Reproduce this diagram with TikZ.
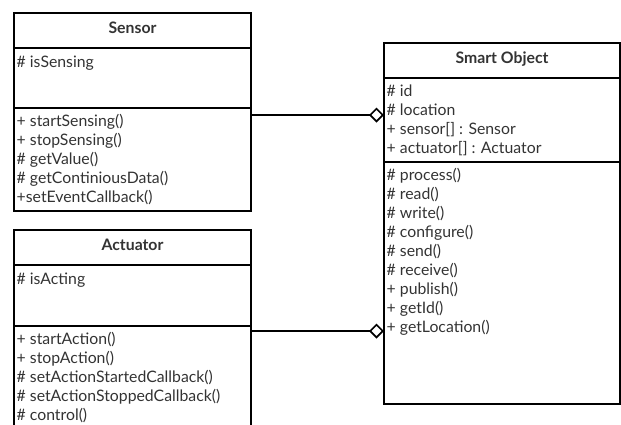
\documentclass[tikz,border=0pt]{standalone}
\usepackage{fontspec}
\setmainfont{Lato}
\usetikzlibrary{positioning,arrows.meta}
\definecolor{umltext}{HTML}{333333}
\tikzstyle{classhead} = [draw=black, line width=1.5pt, outer sep=0pt, inner sep=0pt, minimum height=35pt, text height=11pt, text depth=5pt, text=umltext, font=\fontsize{15.8}{19}\selectfont\bfseries]
\tikzstyle{compart} = [draw=black, line width=1.5pt, outer sep=0pt, inner sep=0pt]
\tikzstyle{members} = [anchor=north west, align=left, inner xsep=2.5pt, inner ysep=6.3pt, text=umltext, font=\fontsize{15.8}{19}\selectfont, execute at begin node=\strut]
\tikzstyle{aggr} = [line width=1.3pt, -{Diamond[open, length=15pt, width=15pt, line width=1.7pt]}]

\begin{document}
\begin{tikzpicture}[x=1pt, y=-1pt]
\useasboundingbox (0,0) rectangle (621,424);

% Sensor class
\node[classhead, minimum width=237pt, anchor=north west] (sensor) at (14,13) {Sensor};
\node[compart, minimum width=237pt, minimum height=60pt, below=0pt of sensor]      (sensorattr) {};
\node[compart, minimum width=237pt, minimum height=103pt, below=0pt of sensorattr] (sensormeth) {};
\node[members] (sensorattrtext) at (sensorattr.north west) {\# isSensing};
\node[members] (sensormethtext) at (sensormeth.north west) {+ startSensing()\\+ stopSensing()\\\# getValue()\\\# getContiniousData()\\+setEventCallback()};

% Actuator class
\node[classhead, minimum width=237pt, anchor=north west] (actuator) at (14,230) {Actuator};
\node[compart, minimum width=237pt, minimum height=61pt, below=0pt of actuator]      (actattr) {};
\node[compart, minimum width=237pt, minimum height=130pt, below=0pt of actattr]      (actmeth) {};
\node[members] (actattrtext) at (actattr.north west) {\# isActing};
\node[members] (actmethtext) at (actmeth.north west) {+ startAction()\\+ stopAction()\\\# setActionStartedCallback()\\\# setActionStoppedCallback()\\\# control()};

% Smart Object class
\node[classhead, minimum width=236pt, anchor=north west] (smart) at (384,43) {Smart Object};
\node[compart, minimum width=236pt, minimum height=84pt, below=0pt of smart]       (smartattr) {};
\node[compart, minimum width=236pt, minimum height=242pt, below=0pt of smartattr]  (smartmeth) {};
\node[members] (smartattrtext) at (smartattr.north west) {\# id\\\# location\\+ sensor[] : Sensor\\+ actuator[] : Actuator};
\node[members] (smartmethtext) at (smartmeth.north west) {\# process()\\\# read()\\\# write()\\\# configure()\\\# send()\\\# receive()\\+ publish()\\+ getId()\\+ getLocation()};

% Aggregations
\coordinate (sensorlink) at ([yshift=-7pt]sensormeth.north east);
\coordinate (actlink)    at ([yshift=-5pt]actmeth.north east);
\draw[aggr] (sensorlink) -- (sensorlink -| smartattr.west);
\draw[aggr] (actlink)    -- (actlink -| smartmeth.west);
\end{tikzpicture}
\end{document}
